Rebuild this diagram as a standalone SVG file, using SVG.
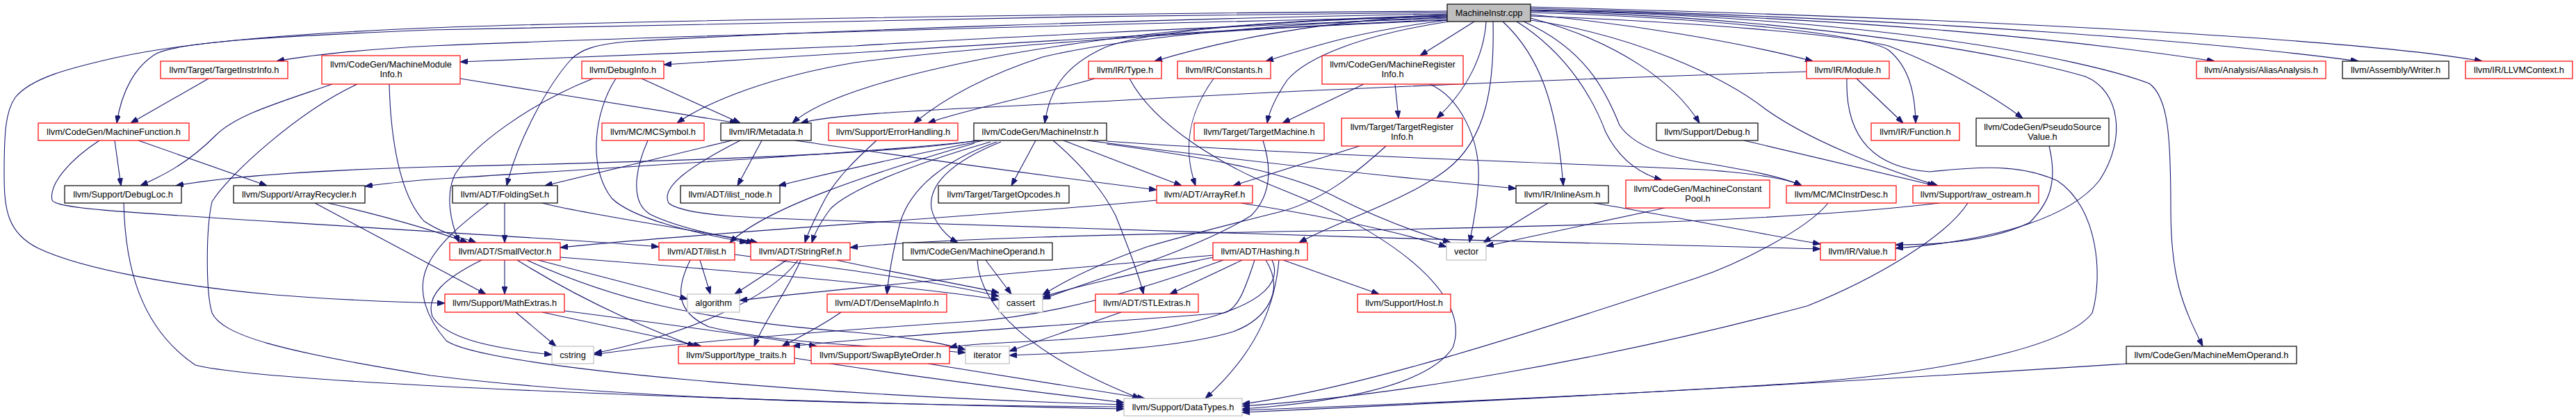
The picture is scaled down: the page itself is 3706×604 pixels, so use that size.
<svg xmlns="http://www.w3.org/2000/svg" width="3706" height="604" viewBox="0 0 3706 604">
<style>
.n rect{fill:#ffffff;stroke-width:1.2}
.r rect{stroke:#ff0000}
.b rect{stroke:#000000}
.g rect{stroke:#bfbfbf}
.root rect{fill:#bfbfbf;stroke:#000000}
text{font-family:"Liberation Sans",Arial,sans-serif;font-size:12.8px;fill:#000000;text-anchor:middle}
#edges path{fill:none;stroke:#191970;stroke-width:1.1;marker-end:url(#a)}
</style>
<defs>
<marker id="a" markerUnits="userSpaceOnUse" markerWidth="11" markerHeight="8" refX="11" refY="4" orient="auto"><path d="M0,0 L11,4 L0,8 z" fill="#191970" stroke="#191970"/></marker>
</defs>
<rect width="3706" height="604" fill="#ffffff"/>
<g id="edges">
<path d="M2082,24 C1700,32 1000,50 620,66 C520,71 440,80 398,88"/>
<path d="M2082,26 C1750,38 1350,58 1230,66 C1000,77 800,82 662,89"/>
<path d="M2082,18 C1600,22 1000,32 620,43 C400,52 260,60 225,77 C195,95 175,130 168,177"/>
<path d="M2082,16 C1500,20 900,30 620,40 C420,48 260,62 166,83 C100,98 45,112 22,140 C8,160 6,190 6,250 C6,300 10,335 55,357 C120,388 260,412 395,424 C500,432 580,435 640,436"/>
<path d="M2082,28 C1800,40 1350,68 955,93"/>
<path d="M2082,20 C1700,26 1150,45 900,60 C855,64 835,72 822,85 C790,120 745,200 729,267"/>
<path d="M2082,29 C1700,45 1380,70 1230,90 C1110,110 1020,145 974,177"/>
<path d="M2082,22 C1800,28 1600,52 1450,78 C1300,105 1180,140 1140,177"/>
<path d="M2082,25 C1800,35 1600,58 1500,82 C1420,108 1360,140 1315,177"/>
<path d="M2082,23 C1820,30 1650,45 1590,68 C1530,95 1510,130 1503,177"/>
<path d="M2082,21 C1900,30 1760,58 1661,88"/>
<path d="M2083,29 C1950,45 1880,70 1821,88"/>
<path d="M2084,31 C1960,50 1880,82 1852,115 C1835,140 1826,160 1823,177"/>
<path d="M2121,31 L2043,80"/>
<path d="M2138,31 C2135,80 2110,130 2067,170"/>
<path d="M2148,31 C2150,120 2140,200 2080,245 C2020,290 1920,320 1869,349"/>
<path d="M2162,31 C2215,80 2240,150 2249,267"/>
<path d="M2182,31 C2260,80 2295,150 2310,190 C2330,230 2360,250 2391,259"/>
<path d="M2192,31 C2280,70 2310,130 2330,180 C2350,210 2400,226 2450,234 C2510,244 2565,254 2592,267"/>
<path d="M2202,26 C2330,60 2410,120 2445,177"/>
<path d="M2202,29 C2350,50 2480,110 2540,157 C2600,200 2700,240 2788,267"/>
<path d="M2202,21 C2350,35 2500,60 2608,88"/>
<path d="M2202,18 C2450,25 2680,48 2717,72 C2745,95 2755,130 2756,177"/>
<path d="M2202,23 C2450,32 2650,50 2717,66 C2800,98 2870,140 2910,170"/>
<path d="M2202,16 C2600,25 2900,80 3000,110 C3050,130 3060,200 3020,260 C2980,310 2880,345 2727,357"/>
<path d="M2202,14 C2700,25 3000,60 3186,88"/>
<path d="M2202,12 C2800,28 3200,62 3393,88"/>
<path d="M2202,10 C2900,28 3400,58 3571,88"/>
<path d="M2202,15 C2700,24 3000,85 3092,120 C3120,140 3123,200 3123,300 C3123,400 3140,440 3169,498"/>
<path d="M300,113 L188,177"/>
<path d="M478,121 C400,148 340,165 310,195 C270,235 235,252 202,267"/>
<path d="M514,121 C430,160 330,250 305,290 C296,330 296,420 305,450 C320,482 400,505 620,540 C900,575 1300,583 1617,585"/>
<path d="M560,121 C562,200 575,280 610,318 C640,338 670,343 685,349"/>
<path d="M662,113 L1061,177"/>
<path d="M853,113 C760,150 680,210 655,250 C640,280 648,320 661,349"/>
<path d="M886,113 C855,160 845,240 880,285 C910,315 1000,335 1075,349"/>
<path d="M923,113 L1065,177"/>
<path d="M932,202 C915,240 905,290 935,308 C975,328 1040,340 1085,349"/>
<path d="M1053,202 L784,267"/>
<path d="M1096,202 L1061,267"/>
<path d="M1144,202 C1200,210 1400,240 1664,273"/>
<path d="M1065,202 C990,240 950,270 962,292 C985,312 1100,314 1230,318 C1600,330 2200,350 2619,358"/>
<path d="M2599,103 C2300,112 1900,128 1600,145 C1350,158 1200,163 1152,177"/>
<path d="M1575,113 C1480,140 1380,160 1335,177"/>
<path d="M1746,113 C1712,160 1700,210 1720,267"/>
<path d="M1962,121 L1845,177"/>
<path d="M2007,121 L2012,170"/>
<path d="M2057,121 C2100,140 2130,200 2127,260 C2125,300 2118,330 2114,349"/>
<path d="M1625,113 C1660,180 1760,240 1850,275 C1990,330 2120,420 2090,500 C2050,560 1900,580 1787,588"/>
<path d="M1956,210 L1774,267"/>
<path d="M1994,210 C1950,250 1900,290 1840,305 C1760,325 1700,340 1650,355 C1580,380 1530,405 1500,424"/>
<path d="M1817,202 C1829,240 1830,280 1800,310 C1720,360 1580,400 1500,430"/>
<path d="M1405,202 C1300,220 1000,232 620,240 C450,245 320,255 253,267"/>
<path d="M1410,202 C1300,216 900,240 620,258 C580,261 545,265 525,268"/>
<path d="M1415,202 C1350,215 1250,235 1120,267"/>
<path d="M1402,206 C1250,250 1100,300 1050,349"/>
<path d="M1425,204 C1300,240 1220,275 1195,300 C1180,320 1172,335 1168,349"/>
<path d="M1434,204 C1360,230 1310,270 1295,320 C1285,360 1278,400 1276,423"/>
<path d="M1440,204 C1370,232 1335,265 1340,300 C1345,322 1362,340 1378,349"/>
<path d="M1490,202 L1455,267"/>
<path d="M1515,202 C1560,240 1590,280 1605,310 C1625,360 1640,400 1645,423"/>
<path d="M1530,202 L1700,267"/>
<path d="M1564,202 C1700,220 1900,245 2181,271"/>
<path d="M1592,203 C1900,225 2300,236 2450,244 C2520,249 2570,256 2592,267"/>
<path d="M1592,207 C1750,228 1860,250 1925,285 C1985,315 2040,335 2087,349"/>
<path d="M1261,202 C1230,230 1200,260 1185,290 C1172,315 1162,335 1158,349"/>
<path d="M1664,288 C1500,305 1000,335 806,356"/>
<path d="M1785,292 C1900,310 2000,330 2081,355"/>
<path d="M2227,292 L2134,349"/>
<path d="M2293,292 C2400,310 2500,330 2619,351"/>
<path d="M2395,299 C2300,320 2200,340 2138,354"/>
<path d="M2509,202 L2784,267"/>
<path d="M2671,113 L2738,177"/>
<path d="M2657,113 C2655,180 2680,240 2776,247 C2850,240 2905,235 2960,260 C3020,300 3025,400 3010,450 C2980,490 2850,530 2600,550 C2300,570 2000,582 1787,590"/>
<path d="M2948,210 C2960,260 2950,290 2920,320 C2870,345 2800,352 2727,352"/>
<path d="M2630,292 C2600,330 2500,380 2440,400 C2200,480 1950,560 1787,581"/>
<path d="M2831,292 C2800,340 2700,400 2600,440 C2300,520 2000,570 1787,584"/>
<path d="M2790,292 C2600,315 2300,325 1900,332 C1600,337 1350,343 1223,356"/>
<path d="M3060,523 C2800,540 2300,570 1787,593"/>
<path d="M165,202 L174,267"/>
<path d="M199,202 L384,267"/>
<path d="M143,202 C100,230 70,265 75,288 C82,302 200,306 620,333 C800,344 900,350 948,355"/>
<path d="M178,292 C180,380 200,470 281,525 C400,555 1200,580 1617,588"/>
<path d="M472,292 C550,310 620,330 673,349"/>
<path d="M453,292 L699,423"/>
<path d="M726,292 L726,349"/>
<path d="M703,292 C680,310 625,350 612,390 C602,420 612,455 642,490 C700,530 1200,570 1617,582"/>
<path d="M780,292 C850,310 1000,330 1090,349"/>
<path d="M726,374 L726,423"/>
<path d="M774,374 L989,430"/>
<path d="M744,374 C850,440 950,480 1000,498"/>
<path d="M758,374 C880,430 1000,460 1230,478 C1300,484 1360,494 1389,503"/>
<path d="M693,374 C640,400 612,425 622,455 C640,485 700,500 794,510"/>
<path d="M806,370 C1000,385 1300,410 1437,431"/>
<path d="M742,449 L800,498"/>
<path d="M780,449 L1009,498"/>
<path d="M812,447 C950,465 1100,485 1175,498"/>
<path d="M1007,374 L1022,423"/>
<path d="M993,374 C970,420 975,450 1020,470 C1120,495 1300,500 1389,507"/>
<path d="M1057,366 C1200,385 1350,405 1437,426"/>
<path d="M1132,374 L1057,423"/>
<path d="M1148,374 C1100,440 950,490 855,508"/>
<path d="M1152,374 C1132,420 1100,460 1085,498"/>
<path d="M1203,374 C1300,395 1400,412 1437,421"/>
<path d="M1210,449 C1180,470 1140,490 1125,498"/>
<path d="M1418,374 L1455,423"/>
<path d="M1406,374 C1410,440 1480,510 1640,573"/>
<path d="M1746,370 C1650,390 1560,408 1500,427"/>
<path d="M1787,374 L1683,423"/>
<path d="M1846,374 L1984,423"/>
<path d="M1840,374 C1835,430 1815,500 1734,573"/>
<path d="M1821,374 C1850,420 1820,460 1774,477 C1700,500 1550,508 1452,511"/>
<path d="M1745,367 C1500,390 1250,410 1064,432"/>
<path d="M1760,374 C1620,425 1500,455 1400,462 C1200,475 950,495 855,510"/>
<path d="M1805,374 C1790,420 1780,445 1761,450 C1500,470 1250,485 1140,498"/>
<path d="M1830,374 C1860,440 1700,480 1500,490 C1420,494 1380,496 1366,500"/>
<path d="M1613,449 L1452,505"/>
<path d="M1143,515 C1300,540 1500,565 1617,579"/>
<path d="M1335,523 L1647,573"/>
</g>
<g id="n_root" class="n root"><rect x="2082" y="6" width="120" height="25"/><text x="2142" y="23">MachineInstr.cpp</text></g>
<g id="n_tii" class="n r"><rect x="231" y="88" width="183" height="25"/><text x="322.5" y="105">llvm/Target/TargetInstrInfo.h</text></g>
<g id="n_mmi" class="n r"><rect x="463" y="80" width="199" height="41"/><text x="562.5" y="97">llvm/CodeGen/MachineModule</text><text x="562.5" y="111">Info.h</text></g>
<g id="n_di" class="n r"><rect x="837" y="88" width="118" height="25"/><text x="896" y="105">llvm/DebugInfo.h</text></g>
<g id="n_ty" class="n r"><rect x="1566" y="88" width="105" height="25"/><text x="1618.5" y="105">llvm/IR/Type.h</text></g>
<g id="n_co" class="n r"><rect x="1694" y="88" width="134" height="25"/><text x="1761" y="105">llvm/IR/Constants.h</text></g>
<g id="n_mri" class="n r"><rect x="1902" y="80" width="203" height="41"/><text x="2003.5" y="97">llvm/CodeGen/MachineRegister</text><text x="2003.5" y="111">Info.h</text></g>
<g id="n_mod" class="n r"><rect x="2599" y="88" width="119" height="25"/><text x="2658.5" y="105">llvm/IR/Module.h</text></g>
<g id="n_aa" class="n r"><rect x="3160" y="88" width="186" height="25"/><text x="3253" y="105">llvm/Analysis/AliasAnalysis.h</text></g>
<g id="n_aw" class="n b"><rect x="3370" y="88" width="153" height="25"/><text x="3446.5" y="105">llvm/Assembly/Writer.h</text></g>
<g id="n_lc" class="n r"><rect x="3547" y="88" width="154" height="25"/><text x="3624" y="105">llvm/IR/LLVMContext.h</text></g>
<g id="n_mf" class="n r"><rect x="55" y="177" width="217" height="25"/><text x="163.5" y="194">llvm/CodeGen/MachineFunction.h</text></g>
<g id="n_mcs" class="n r"><rect x="866" y="177" width="147" height="25"/><text x="939.5" y="194">llvm/MC/MCSymbol.h</text></g>
<g id="n_md" class="n b"><rect x="1037" y="177" width="130" height="25"/><text x="1102" y="194">llvm/IR/Metadata.h</text></g>
<g id="n_eh" class="n r"><rect x="1192" y="177" width="186" height="25"/><text x="1285" y="194">llvm/Support/ErrorHandling.h</text></g>
<g id="n_mi" class="n b"><rect x="1401" y="177" width="191" height="25"/><text x="1496.5" y="194">llvm/CodeGen/MachineInstr.h</text></g>
<g id="n_tm" class="n r"><rect x="1718" y="177" width="187" height="25"/><text x="1811.5" y="194">llvm/Target/TargetMachine.h</text></g>
<g id="n_tri" class="n r"><rect x="1930" y="170" width="174" height="40"/><text x="2017" y="187">llvm/Target/TargetRegister</text><text x="2017" y="201">Info.h</text></g>
<g id="n_dbg" class="n b"><rect x="2383" y="177" width="146" height="25"/><text x="2456" y="194">llvm/Support/Debug.h</text></g>
<g id="n_fn" class="n r"><rect x="2692" y="177" width="127" height="25"/><text x="2755.5" y="194">llvm/IR/Function.h</text></g>
<g id="n_psv" class="n b"><rect x="2843" y="170" width="191" height="40"/><text x="2938.5" y="187">llvm/CodeGen/PseudoSource</text><text x="2938.5" y="201">Value.h</text></g>
<g id="n_dl" class="n b"><rect x="93" y="267" width="168" height="25"/><text x="177" y="284">llvm/Support/DebugLoc.h</text></g>
<g id="n_ar" class="n b"><rect x="336" y="267" width="189" height="25"/><text x="430.5" y="284">llvm/Support/ArrayRecycler.h</text></g>
<g id="n_fs" class="n b"><rect x="651" y="267" width="151" height="25"/><text x="726.5" y="284">llvm/ADT/FoldingSet.h</text></g>
<g id="n_iln" class="n b"><rect x="979" y="267" width="143" height="25"/><text x="1050.5" y="284">llvm/ADT/ilist_node.h</text></g>
<g id="n_to" class="n b"><rect x="1350" y="267" width="188" height="25"/><text x="1444" y="284">llvm/Target/TargetOpcodes.h</text></g>
<g id="n_arf" class="n r"><rect x="1664" y="267" width="138" height="25"/><text x="1733" y="284">llvm/ADT/ArrayRef.h</text></g>
<g id="n_ia" class="n b"><rect x="2181" y="267" width="133" height="25"/><text x="2247.5" y="284">llvm/IR/InlineAsm.h</text></g>
<g id="n_mcp" class="n r"><rect x="2339" y="259" width="207" height="40"/><text x="2442.5" y="276">llvm/CodeGen/MachineConstant</text><text x="2442.5" y="290">Pool.h</text></g>
<g id="n_mcid" class="n r"><rect x="2570" y="267" width="158" height="25"/><text x="2649" y="284">llvm/MC/MCInstrDesc.h</text></g>
<g id="n_ro" class="n r"><rect x="2752" y="267" width="181" height="25"/><text x="2842.5" y="284">llvm/Support/raw_ostream.h</text></g>
<g id="n_sv" class="n r"><rect x="647" y="349" width="159" height="25"/><text x="726.5" y="366">llvm/ADT/SmallVector.h</text></g>
<g id="n_il" class="n r"><rect x="948" y="349" width="109" height="25"/><text x="1002.5" y="366">llvm/ADT/ilist.h</text></g>
<g id="n_sr" class="n r"><rect x="1080" y="349" width="143" height="25"/><text x="1151.5" y="366">llvm/ADT/StringRef.h</text></g>
<g id="n_mo" class="n b"><rect x="1299" y="349" width="215" height="25"/><text x="1406.5" y="366">llvm/CodeGen/MachineOperand.h</text></g>
<g id="n_hs" class="n r"><rect x="1745" y="349" width="136" height="25"/><text x="1813" y="366">llvm/ADT/Hashing.h</text></g>
<g id="n_vec" class="n g"><rect x="2081" y="349" width="57" height="25"/><text x="2109.5" y="366">vector</text></g>
<g id="n_val" class="n r"><rect x="2619" y="349" width="108" height="25"/><text x="2673" y="366">llvm/IR/Value.h</text></g>
<g id="n_me" class="n r"><rect x="640" y="423" width="172" height="26"/><text x="726" y="440">llvm/Support/MathExtras.h</text></g>
<g id="n_alg" class="n g"><rect x="989" y="423" width="75" height="26"/><text x="1026.5" y="440">algorithm</text></g>
<g id="n_dmi" class="n r"><rect x="1190" y="423" width="172" height="26"/><text x="1276" y="440">llvm/ADT/DenseMapInfo.h</text></g>
<g id="n_ca" class="n g"><rect x="1437" y="423" width="63" height="26"/><text x="1468.5" y="440">cassert</text></g>
<g id="n_stl" class="n r"><rect x="1576" y="423" width="148" height="26"/><text x="1650" y="440">llvm/ADT/STLExtras.h</text></g>
<g id="n_host" class="n r"><rect x="1953" y="423" width="134" height="26"/><text x="2020" y="440">llvm/Support/Host.h</text></g>
<g id="n_cs" class="n g"><rect x="794" y="498" width="60" height="25"/><text x="824" y="515">cstring</text></g>
<g id="n_tt" class="n r"><rect x="976" y="498" width="167" height="25"/><text x="1059.5" y="515">llvm/Support/type_traits.h</text></g>
<g id="n_sbo" class="n r"><rect x="1167" y="498" width="199" height="25"/><text x="1266.5" y="515">llvm/Support/SwapByteOrder.h</text></g>
<g id="n_it" class="n g"><rect x="1389" y="498" width="63" height="25"/><text x="1420.5" y="515">iterator</text></g>
<g id="n_mmo" class="n b"><rect x="3059" y="498" width="245" height="25"/><text x="3181.5" y="515">llvm/CodeGen/MachineMemOperand.h</text></g>
<g id="n_dt" class="n g"><rect x="1617" y="573" width="170" height="25"/><text x="1702" y="590">llvm/Support/DataTypes.h</text></g>
</svg>
